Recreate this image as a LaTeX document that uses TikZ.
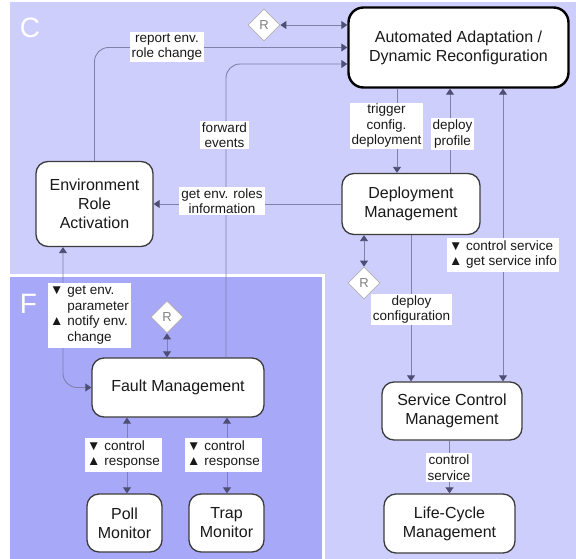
\documentclass[tikz,border=0pt]{standalone}
\usepackage{fontspec}
\setmainfont{Liberation Sans}
\usetikzlibrary{arrows.meta,shapes.geometric}
\definecolor{bgC}{RGB}{206,206,252}
\definecolor{bgF}{RGB}{168,168,248}
\definecolor{wirec}{RGB}{128,128,168}
\definecolor{tipc}{RGB}{78,78,116}
\definecolor{rimc}{RGB}{60,60,60}
\tikzset{
  box/.style={draw=rimc, line width=1.3pt, fill=white, rounded corners=12pt,
    align=center, font=\fontsize{16}{19}\selectfont, inner sep=0pt, text=black!90},
  bigbox/.style={box, draw=black, line width=2.4pt, rounded corners=15pt},
  rnode/.style={diamond, draw=gray!60, fill=white, line width=0.8pt,
    minimum width=32pt, minimum height=32pt, inner sep=0pt, text=gray,
    font=\fontsize{13}{13}\selectfont},
  lbl/.style={fill=white, inner xsep=2pt, inner ysep=1.5pt, align=center,
    font=\fontsize{13.5}{15.5}\selectfont, text=black!90},
  wire/.style={draw=wirec, line width=0.9pt},
  tipend/.style={wire, -{Triangle[width=8pt,length=6pt,color=tipc]}},
  tipboth/.style={wire, {Triangle[width=8pt,length=6pt,color=tipc]}-{Triangle[width=8pt,length=6pt,color=tipc]}},
  zone/.style={text=white, font=\fontsize{28}{28}\selectfont, inner sep=0pt},
}
\newcommand{\dn}{\textbf{▼}}
\newcommand{\up}{\textbf{▲}}
\begin{document}
\begin{tikzpicture}[x=1pt,y=-1pt]
\useasboundingbox (0,0) rectangle (576,559);
\fill[white] (0,0) rectangle (576,559);
% zones
\fill[bgC] (10,2) rectangle (576,559);
\fill[bgF] (10,276) rectangle (323,559);
\draw[white, line width=2.5pt] (10,275.5) -- (323.5,275.5) -- (323.5,559);
\node[zone] (zc) at (30,27.5) {C};
\node[zone] (zf) at (28.5,303.5) {F};

% components
\node[bigbox, minimum width=220, minimum height=80] (aa) at (458.5,47.5)
  {Automated Adaptation /\\Dynamic Reconfiguration};
\node[box, minimum width=117, minimum height=85] (era) at (94.5,204)
  {Environment\\Role\\Activation};
\node[box, minimum width=138, minimum height=61] (dm) at (411,204)
  {Deployment\\Management};
\node[box, minimum width=140, minimum height=58] (scm) at (452,411)
  {Service Control\\Management};
\node[box, minimum width=131, minimum height=59] (lcm) at (449.5,523.5)
  {Life-Cycle\\Management};
\node[box, minimum width=172, minimum height=59] (fm) at (178,387.5)
  {Fault Management};
\node[box, minimum width=75, minimum height=58] (poll) at (124.5,523)
  {Poll\\Monitor};
\node[box, minimum width=75, minimum height=58] (trap) at (226.5,523)
  {Trap\\Monitor};
\node[rnode] (r1) at (264,25) {R};
\node[rnode] (r2) at (364,283) {R};
\node[rnode] (r3) at (167,317) {R};

% connectors
\draw[tipboth] (r1.east) -- (r1.east -| aa.west);
\draw[tipend, rounded corners=14pt] (era.north) |- (aa.west);
\draw[tipend, rounded corners=14pt] (fm.north -| 226,0) |- (aa.west |- 0,64);
\draw[tipend] (aa.south -| 397,0) -- (dm.north -| 397,0);
\draw[tipend] (dm.north -| 450,0) -- (aa.south -| 450,0);
\draw[tipboth] (aa.south -| 503,0) -- (scm.north -| 503,0);
\draw[tipend] (dm.west) -- (era.east);
\draw[tipboth] (dm.south -| r2.north) -- (r2.north);
\draw[tipend] (dm.south -| 411,0) -- (scm.north -| 411,0);
\draw[tipend] (scm.south -| lcm.north) -- (lcm.north);
\draw[tipboth, rounded corners=14pt] (era.south -| 63,0) |- (fm.west);
\draw[tipboth] (r3.south) -- (r3.south |- fm.north);
\draw[tipboth] (fm.south -| 127,0) -- (poll.north -| 127,0);
\draw[tipboth] (fm.south -| 227,0) -- (trap.north -| 227,0);

% connector labels
\node[lbl] (l1) at (167,47) {report env.\\role change};
\node[lbl] (l2) at (224.5,135) {forward\\events};
\node[lbl] (l3) at (222,201) {get env. roles\\information};
\node[lbl] (l4) at (386.5,126) {trigger\\config.\\deployment};
\node[lbl] (l5) at (452.5,134) {deploy\\profile};
\node[lbl] (l6) at (503,255) {\begin{tabular}{@{}l@{\ }l@{}}\dn & control service\\ \up & get service info\end{tabular}};
\node[lbl] (l7) at (411.5,309.5) {deploy\\configuration};
\node[lbl] (l8) at (449,467.5) {control\\service};
\node[lbl] (l9) at (89.5,315) {\begin{tabular}{@{}l@{\ }l@{}}\dn & get env.\\ & parameter\\ \up & notify env.\\ & change\end{tabular}};
\node[lbl] (l10) at (123.5,455) {\begin{tabular}{@{}l@{\ }l@{}}\dn & control\\ \up & response\end{tabular}};
\node[lbl] (l11) at (223.5,455) {\begin{tabular}{@{}l@{\ }l@{}}\dn & control\\ \up & response\end{tabular}};
\end{tikzpicture}
\end{document}
